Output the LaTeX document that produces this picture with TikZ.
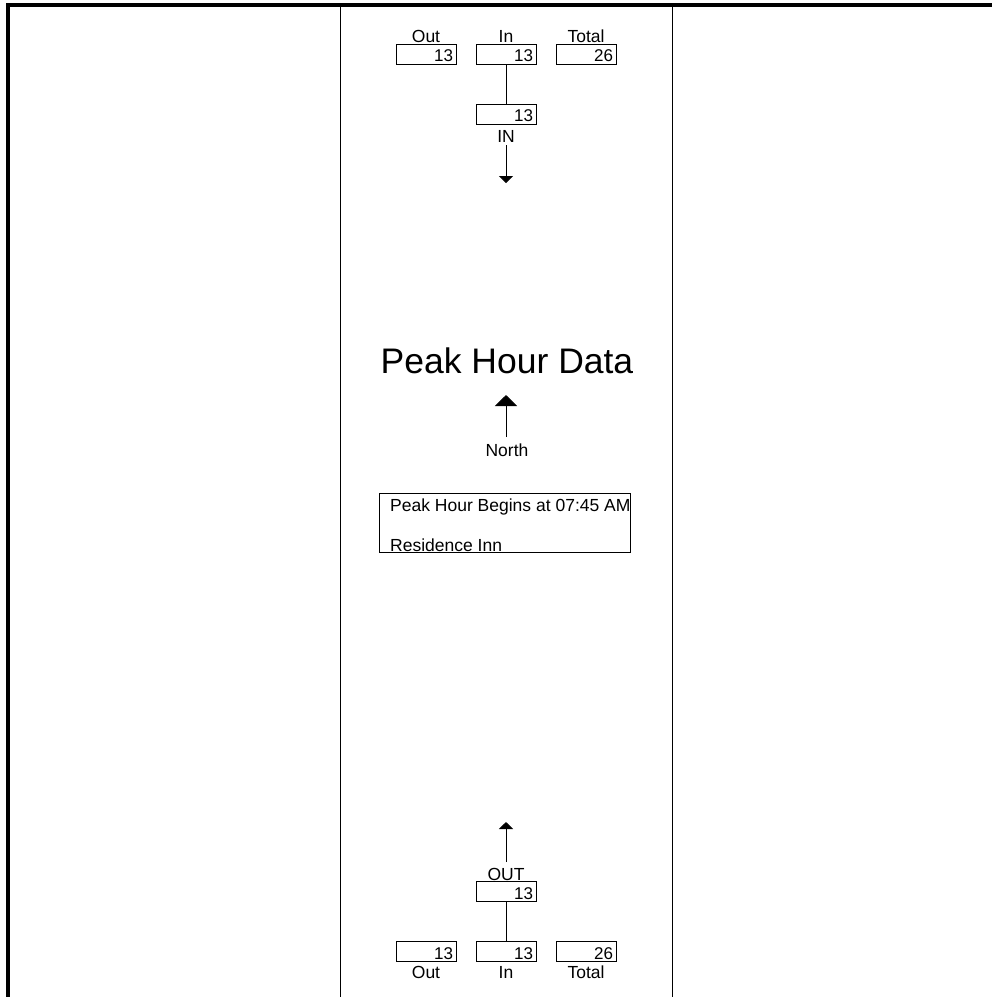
\documentclass[tikz,border=0pt]{standalone}
\usepackage{fontspec}
\setmainfont{Liberation Sans}
\usetikzlibrary{arrows.meta}
\begin{document}
\begin{tikzpicture}[x=1pt,y=-1pt,
  valbox/.style={draw, line width=0.8pt, minimum width=60pt, minimum height=20pt,
    inner sep=0pt, text width=54pt, align=right, text height=16pt, text depth=1pt,
    font=\fontsize{17}{17}\selectfont},
  lbl/.style={inner sep=0pt, anchor=base, font=\fontsize{17.5}{17.5}\selectfont},
  conn/.style={line width=0.8pt},
  smallarrow/.style={line width=0.8pt, -{Triangle[width=14pt,length=7pt]}},
  bigarrow/.style={line width=0.8pt, -{Triangle[width=22pt,length=11pt]}},
  frame/.style={line width=4pt},
  divider/.style={line width=1pt},
]
\useasboundingbox (0,0) rectangle (992,997);
% frame and dividers
\draw[frame] (8,997) -- (8,5) -- (992,5);
\draw[divider] (340,7) -- (340,997);
\draw[divider] (672,7) -- (672,997);

% top group
\node[valbox] (tout) at (426,54) {13};
\node[valbox] (tin) at (506,54) {13};
\node[valbox] (ttot) at (586,54) {26};
\node[lbl] (toutl) at (426,42) {Out};
\node[lbl] (tinl) at (506,42) {In};
\node[lbl] (ttotl) at (586,42) {Total};
\node[valbox] (tIN) at (506,114) {13};
\node[lbl] (tINl) at (506,142) {IN};
\coordinate (tarrowstart) at (506,145);
\coordinate (tarrowend) at (506,183);
\draw[conn] (tin.south) -- (tIN.north);
\draw[smallarrow] (tarrowstart) -- (tarrowend);

% center
\node[inner sep=0pt, anchor=base, font=\fontsize{35.5}{35.5}\selectfont] (title) at (507,373) {Peak Hour Data};
\coordinate (nstart) at (506,437);
\coordinate (ntip) at (506,395);
\draw[bigarrow] (nstart) -- (ntip);
\node[lbl] (north) at (507,456) {North};
\node[draw, line width=0.8pt, minimum width=251pt, minimum height=59pt, inner sep=0pt] (info) at (504.5,522.5) {};
\node[inner sep=0pt, anchor=base west, font=\fontsize{17.5}{17.5}\selectfont] (begins) at (390,511) {Peak Hour Begins at 07:45 AM};
\node[inner sep=0pt, anchor=base west, font=\fontsize{17.5}{17.5}\selectfont] (site) at (390,551) {Residence Inn};

% bottom group
\coordinate (barrowstart) at (506,862);
\coordinate (barrowend) at (506,822);
\draw[smallarrow] (barrowstart) -- (barrowend);
\node[lbl] (bOUTl) at (506,880) {OUT};
\node[valbox] (bOUT) at (506,891.5) {13};
\node[valbox] (bout) at (426,951.5) {13};
\node[valbox] (bin) at (506,951.5) {13};
\node[valbox] (btot) at (586,951.5) {26};
\draw[conn] (bOUT.south) -- (bin.north);
\node[lbl] (boutl) at (426,978) {Out};
\node[lbl] (binl) at (506,978) {In};
\node[lbl] (btotl) at (586,978) {Total};
\end{tikzpicture}
\end{document}
